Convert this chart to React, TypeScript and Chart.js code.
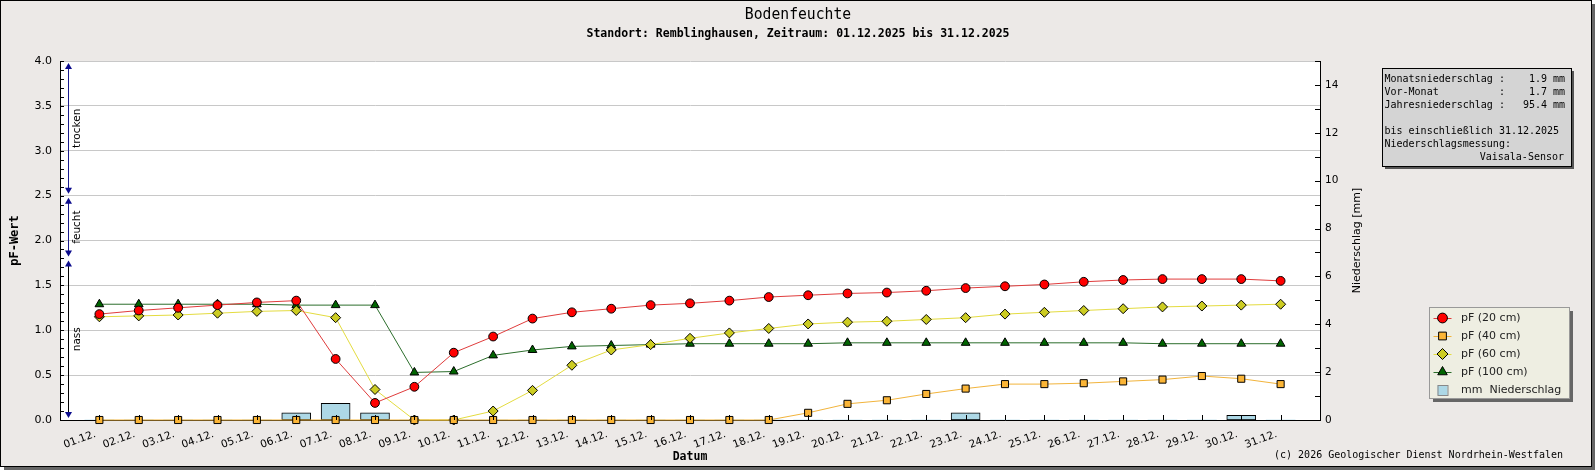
import { useEffect, useRef } from "react";
import Chart from "chart.js/auto";
import { drawPoint } from "chart.js/helpers";

// Datum (x-Achse)
const dayLabels = [
  "01.12.", "02.12.", "03.12.", "04.12.", "05.12.", "06.12.", "07.12.", "08.12.",
  "09.12.", "10.12.", "11.12.", "12.12.", "13.12.", "14.12.", "15.12.", "16.12.",
  "17.12.", "18.12.", "19.12.", "20.12.", "21.12.", "22.12.", "23.12.", "24.12.",
  "25.12.", "26.12.", "27.12.", "28.12.", "29.12.", "30.12.", "31.12.",
];

// pF-Werte je Tiefe
const pf20 = [
  1.18, 1.22, 1.25, 1.28, 1.31, 1.33, 0.68, 0.19, 0.37, 0.75, 0.93, 1.13, 1.2, 1.24, 1.28, 1.3,
  1.33, 1.37, 1.39, 1.41, 1.42, 1.44, 1.47, 1.49, 1.51, 1.54, 1.56, 1.57, 1.57, 1.57, 1.55,
];
const pf40 = [
  0, 0, 0, 0, 0, 0, 0, 0, 0, 0, 0, 0, 0, 0, 0, 0,
  0, 0, 0.08, 0.18, 0.22, 0.29, 0.35, 0.4, 0.4, 0.41, 0.43, 0.45, 0.49, 0.46, 0.4,
];
const pf60 = [
  1.15, 1.16, 1.17, 1.19, 1.21, 1.22, 1.14, 0.34, 0, 0, 0.1, 0.33, 0.61, 0.78, 0.84, 0.91,
  0.97, 1.02, 1.07, 1.09, 1.1, 1.12, 1.14, 1.18, 1.2, 1.22, 1.24, 1.26, 1.27, 1.28, 1.29,
];
const pf100 = [
  1.29, 1.29, 1.29, 1.29, 1.29, 1.28, 1.28, 1.28, 0.53, 0.54, 0.72, 0.78, 0.82, 0.83, 0.84, 0.85,
  0.85, 0.85, 0.85, 0.86, 0.86, 0.86, 0.86, 0.86, 0.86, 0.86, 0.86, 0.85, 0.85, 0.85, 0.85,
];

// Niederschlag in mm
const rain = [
  0, 0, 0, 0, 0, 0.3, 0.7, 0.3, 0, 0, 0, 0, 0, 0, 0, 0,
  0, 0, 0, 0, 0, 0, 0.3, 0, 0, 0, 0, 0, 0, 0.2, 0,
];

// Bereiche am linken Rand (pF)
const zoneLabels = ["trocken", "feucht", "nass"];
const zoneFrom = [2.5, 1.8, 0];
const zoneTo = [4.0, 2.5, 1.8];

const infoLines = [
  "Monatsniederschlag :    1.9 mm",
  "Vor-Monat          :    1.7 mm",
  "Jahresniederschlag :   95.4 mm",
  "",
  "bis einschließlich 31.12.2025",
  "Niederschlagsmessung:",
];
const infoLast = "Vaisala-Sensor";

const SANS = "'DejaVu Sans', sans-serif";
const MONO = "'DejaVu Sans Mono', monospace";

const toXY = (arr: number[]) => arr.map((v, i) => ({ x: i + 1, y: v }));

function squeezedText(ctx: CanvasRenderingContext2D, text: string, x: number, y: number, sx: number, rot = 0) {
  ctx.save();
  ctx.translate(x, y);
  ctx.rotate(rot);
  ctx.scale(sx, 1);
  ctx.fillText(text, 0, 0);
  ctx.restore();
}

const decor = {
  id: "decor",
  beforeDraw(chart: any) {
    const { ctx, chartArea: a } = chart;
    ctx.save();
    ctx.fillStyle = "#ffffff";
    ctx.fillRect(a.left, a.top, a.right - a.left, a.bottom - a.top);
    ctx.restore();
  },
  afterDraw(chart: any) {
    const { ctx, chartArea: a, scales } = chart;
    const { x, y, y2 } = scales;
    ctx.save();

    // Ticks nach innen
    ctx.strokeStyle = "#000";
    ctx.lineWidth = 1;
    ctx.beginPath();
    x.ticks.forEach((t: any) => {
      if (t.value <= 0 || t.value >= 32) return;
      const px = Math.round(x.getPixelForValue(t.value)) + 0.5;
      ctx.moveTo(px, a.bottom);
      ctx.lineTo(px, a.bottom - 5);
    });
    y.ticks.forEach((t: any) => {
      const py = Math.round(y.getPixelForValue(t.value)) + 0.5;
      ctx.moveTo(a.left, py);
      ctx.lineTo(a.left + 4, py);
    });
    y2.ticks.forEach((t: any) => {
      const py = Math.round(y2.getPixelForValue(t.value)) + 0.5;
      ctx.moveTo(a.right, py);
      ctx.lineTo(a.right - 5, py);
    });
    ctx.stroke();

    // trocken / feucht / nass
    const ax = a.left + 8.5;
    zoneLabels.forEach((label, i) => {
      const top = y.getPixelForValue(zoneTo[i]) + 2;
      const bot = y.getPixelForValue(zoneFrom[i]) - 2;
      ctx.strokeStyle = i === 2 ? "#000" : "#1a1a8c";
      ctx.beginPath();
      ctx.moveTo(ax, top + 4);
      ctx.lineTo(ax, bot - 4);
      ctx.stroke();
      ctx.fillStyle = "#0b0b8c";
      ctx.beginPath();
      ctx.moveTo(ax, top);
      ctx.lineTo(ax - 3.5, top + 6);
      ctx.lineTo(ax + 3.5, top + 6);
      ctx.closePath();
      ctx.fill();
      ctx.beginPath();
      ctx.moveTo(ax, bot);
      ctx.lineTo(ax - 3.5, bot - 6);
      ctx.lineTo(ax + 3.5, bot - 6);
      ctx.closePath();
      ctx.fill();
      ctx.fillStyle = "#000";
      ctx.font = `10.5px ${SANS}`;
      ctx.textAlign = "center";
      ctx.textBaseline = "middle";
      const mid = y.getPixelForValue((zoneFrom[i] + zoneTo[i]) / 2);
      squeezedText(ctx, label, ax + 9, mid, 1, -Math.PI / 2);
    });

    // Titel
    ctx.fillStyle = "#000";
    ctx.textAlign = "center";
    ctx.textBaseline = "middle";
    const cx = 798;
    ctx.font = `16px ${MONO}`;
    squeezedText(ctx, "Bodenfeuchte", cx, 15, 0.92);
    ctx.font = `bold 12px ${MONO}`;
    squeezedText(ctx, "Standort: Remblinghausen, Zeitraum: 01.12.2025 bis 31.12.2025", cx, 34, 0.96);

    // Achsentitel
    ctx.font = `bold 12px ${MONO}`;
    squeezedText(ctx, "pF-Wert", 15, (a.top + a.bottom) / 2, 1, -Math.PI / 2);
    ctx.font = `bold 11.5px ${MONO}`;
    squeezedText(ctx, "Datum", (a.left + a.right) / 2, 457, 1);
    ctx.font = `11px ${SANS}`;
    squeezedText(ctx, "Niederschlag [mm]", a.right + 37, (a.top + a.bottom) / 2, 1, -Math.PI / 2);

    // Info-Box
    const ib = { l: 1382, t: 68, w: 189, h: 98 };
    ctx.fillStyle = "#555";
    ctx.fillRect(ib.l + 3, ib.t + 3, ib.w, ib.h);
    ctx.fillStyle = "#d4d4d4";
    ctx.fillRect(ib.l, ib.t, ib.w, ib.h);
    ctx.strokeStyle = "#000";
    ctx.strokeRect(ib.l + 0.5, ib.t + 0.5, ib.w, ib.h);
    ctx.fillStyle = "#000";
    ctx.font = `10px ${MONO}`;
    ctx.textAlign = "left";
    infoLines.forEach((line, i) => ctx.fillText(line, ib.l + 2.5, 79.5 + i * 13));
    ctx.textAlign = "right";
    ctx.fillText(infoLast, 1564, 79.5 + 6 * 13);

    // Legende
    const lg = { l: 1429, t: 307, w: 140, h: 91 };
    ctx.fillStyle = "#666";
    ctx.fillRect(lg.l + 4, lg.t + 4, lg.w, lg.h);
    ctx.fillStyle = "#eeeee2";
    ctx.fillRect(lg.l, lg.t, lg.w, lg.h);
    ctx.strokeStyle = "#999";
    ctx.strokeRect(lg.l + 0.5, lg.t + 0.5, lg.w, lg.h);
    chart.data.datasets.forEach((ds: any, i: number) => {
      const ry = 318 + i * 18;
      const mx = 1442.5;
      if (ds.type === "bar") {
        ctx.fillStyle = ds.backgroundColor;
        ctx.fillRect(mx - 5, ry - 5, 10, 10);
        ctx.strokeStyle = "#888";
        ctx.strokeRect(mx - 4.5, ry - 4.5, 10, 10);
      } else {
        ctx.strokeStyle = ds.borderColor;
        ctx.lineWidth = 1;
        ctx.beginPath();
        ctx.moveTo(mx - 9, ry + 0.5);
        ctx.lineTo(mx + 9, ry + 0.5);
        ctx.stroke();
        ctx.fillStyle = ds.pointBackgroundColor;
        ctx.strokeStyle = "#000";
        drawPoint(ctx, { pointStyle: ds.pointStyle, radius: ds.pointRadius + 0.5, borderWidth: 1, rotation: 0 }, mx, ry);
      }
      ctx.fillStyle = "#222";
      ctx.font = `11px ${SANS}`;
      ctx.textAlign = "left";
      ctx.textBaseline = "middle";
      ctx.fillText(ds.label, 1461, ry + 0.5);
    });

    // Copyright
    ctx.fillStyle = "#000";
    ctx.font = `10px ${MONO}`;
    ctx.textAlign = "right";
    ctx.fillText("(c) 2026 Geologischer Dienst Nordrhein-Westfalen", 1563, 455);
    ctx.restore();
  },
};

const lineSet = (label: string, data: number[], line: string, fill: string, style: string, radius: number, order: number) => ({
  type: "line" as const,
  label,
  data: toXY(data),
  borderColor: line,
  borderWidth: 1,
  pointBackgroundColor: fill,
  pointBorderColor: "#000",
  pointBorderWidth: 1,
  pointStyle: style,
  pointRadius: radius,
  yAxisID: "y",
  clip: false,
  order,
});

export default function App() {
  const canvasRef = useRef<HTMLCanvasElement | null>(null);

  useEffect(() => {
    document.body.style.margin = "0";
    if (!canvasRef.current) return;
    const chart = new Chart(canvasRef.current, {
      type: "line",
      data: {
        datasets: [
          lineSet("pF (20 cm)", pf20, "#e03c3c", "#ff0000", "circle", 4.4, 1),
          lineSet("pF (40 cm)", pf40, "#f2b43c", "#fbb536", "rect", 5, 2),
          lineSet("pF (60 cm)", pf60, "#e4dc40", "#cccc22", "rectRot", 5, 3),
          lineSet("pF (100 cm)", pf100, "#2c6e2c", "#006400", "triangle", 5, 4),
          {
            type: "bar",
            label: "mm  Niederschlag",
            data: toXY(rain),
            backgroundColor: "#add8e6",
            borderColor: "#000",
            borderWidth: (c: any) => (c.raw && c.raw.y > 0 ? 1 : 0),
            borderSkipped: false,
            barThickness: 29,
            yAxisID: "y2",
            order: 10,
          },
        ] as any,
      },
      options: {
        animation: false,
        responsive: false,
        maintainAspectRatio: false,
        layout: { padding: { top: 61, left: 0, right: 0, bottom: 0 } },
        plugins: {
          legend: { display: false },
          title: { display: false },
          tooltip: { enabled: false },
        },
        scales: {
          x: {
            type: "linear",
            min: 0,
            max: 32,
            offset: false,
            afterFit: (s: any) => {
              s.height = 50;
            },
            grid: { display: false, drawTicks: false },
            border: { color: "#000", width: 1 },
            ticks: {
              stepSize: 1,
              autoSkip: false,
              maxRotation: 20,
              minRotation: 20,
              padding: 8,
              labelOffset: -4,
              color: "#000",
              font: { family: SANS, size: 10.5 },
              callback: (v: any) => dayLabels[Number(v) - 1] ?? "",
            },
          },
          y: {
            position: "left",
            min: 0,
            max: 4,
            afterFit: (s: any) => {
              s.width = 60;
            },
            grid: {
              drawTicks: false,
              color: (c: any) =>
                Math.abs(c.tick.value * 2 - Math.round(c.tick.value * 2)) < 1e-6 ? "#c8c8c8" : "rgba(0,0,0,0)",
            },
            border: { color: "#000", width: 1 },
            ticks: {
              stepSize: 0.1,
              autoSkip: false,
              padding: 8,
              color: "#000",
              font: { family: SANS, size: 11 },
              callback: (v: any) =>
                Math.abs(Number(v) * 2 - Math.round(Number(v) * 2)) < 1e-6 ? Number(v).toFixed(1) : "",
            },
          },
          y2: {
            position: "right",
            min: 0,
            max: 15,
            afterFit: (s: any) => {
              s.width = 275;
            },
            grid: { display: false, drawTicks: false },
            border: { color: "#000", width: 1 },
            ticks: {
              stepSize: 1,
              autoSkip: false,
              padding: 5,
              color: "#000",
              font: { family: SANS, size: 10.5 },
              callback: (v: any) => (Number(v) % 2 === 0 ? String(v) : ""),
            },
          },
        },
      } as any,
      plugins: [decor],
    });
    return () => chart.destroy();
  }, []);

  return (
    <div style={{ position: "relative", width: 1595, height: 470 }}>
      <div
        style={{
          position: "absolute",
          left: 0,
          top: 0,
          width: 1592,
          height: 467,
          boxSizing: "border-box",
          border: "1px solid #000",
          background: "#ece9e7",
          boxShadow: "4px 4px 0 #666",
        }}
      />
      <canvas
        ref={canvasRef}
        width={1595}
        height={470}
        style={{ position: "absolute", left: 0, top: 0, width: 1595, height: 470 }}
      />
    </div>
  );
}
